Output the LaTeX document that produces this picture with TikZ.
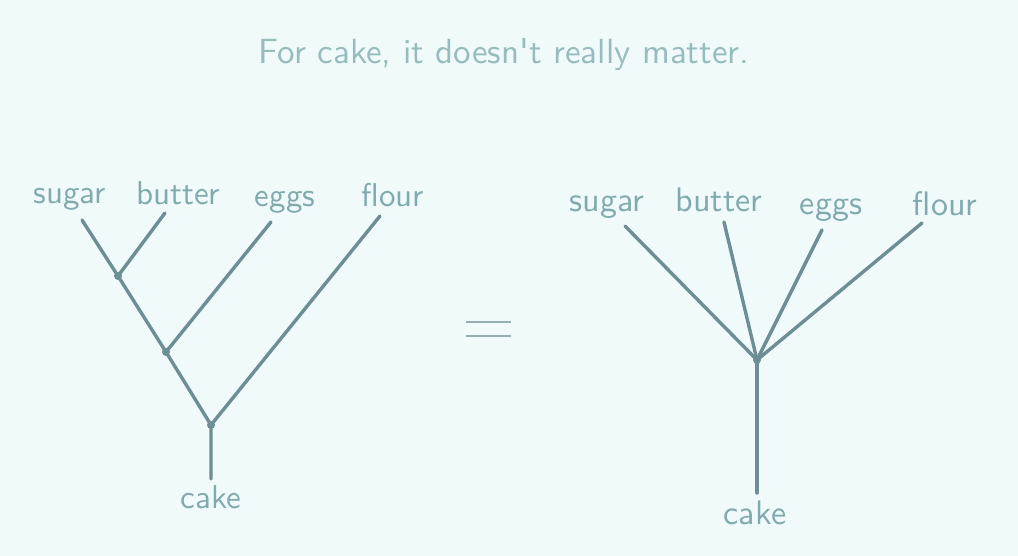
\documentclass[tikz,border=0pt]{standalone}
\begin{document}
\begin{tikzpicture}[x=1pt,y=-1pt,
  txt/.style={text=textc,font=\sffamily\fontsize{10}{12}\selectfont,inner sep=0pt,anchor=base},
  edge/.style={draw=linec,line width=3.4pt,line cap=round},
  dot/.style={circle,fill=linec,inner sep=0pt,minimum size=8pt}]
\definecolor{bgc}{RGB}{240,250,250}
\definecolor{textc}{RGB}{128,170,174}
\definecolor{titlec}{RGB}{150,188,190}
\definecolor{linec}{RGB}{108,142,148}
\fill[bgc] (0,0) rectangle (1018,556);
\useasboundingbox (0,0) rectangle (1018,556);
\node[txt,text=titlec] (title) at (504,64) {\scalebox{3.5}{For cake, it doesn\textquotesingle t really matter.}};
% left tree
\node[txt] (ls) at (70,204) {\scalebox{3.3}{sugar}};
\node[txt] (lb) at (178,205) {\scalebox{3.3}{butter}};
\node[txt] (le) at (285,207) {\scalebox{3.3}{eggs}};
\node[txt] (lf) at (393,207) {\scalebox{3.3}{flour}};
\node[txt] (lc) at (211,508) {\scalebox{3.3}{cake}};
\coordinate (ls1) at (82,220);
\coordinate (lb1) at (165,213);
\coordinate (le1) at (271,222);
\coordinate (lf1) at (380,216);
\coordinate (lc1) at (211,479);
\node[dot] (j1) at (118,276) {};
\node[dot] (j2) at (166,352) {};
\node[dot] (j3) at (211,425) {};
\draw[edge] (ls1) -- (j1.center) -- (j2.center) -- (j3.center) -- (lc1);
\draw[edge] (lb1) -- (j1.center);
\draw[edge] (le1) -- (j2.center);
\draw[edge] (lf1) -- (j3.center);
% equals
\coordinate (e1) at (466,322); \coordinate (e2) at (511,322);
\coordinate (e3) at (466,336); \coordinate (e4) at (511,336);
\draw[draw=linec!70,line width=2pt] (e1) -- (e2) (e3) -- (e4);
% right tree
\node[txt] (rs) at (607,212) {\scalebox{3.4}{sugar}};
\node[txt] (rb) at (719,212) {\scalebox{3.4}{butter}};
\node[txt] (re) at (831,215) {\scalebox{3.4}{eggs}};
\node[txt] (rf) at (945,216) {\scalebox{3.4}{flour}};
\node[txt] (rc) at (755,524) {\scalebox{3.4}{cake}};
\coordinate (rs1) at (625,226);
\coordinate (rb1) at (724,222);
\coordinate (re1) at (822,230);
\coordinate (rf1) at (922,223);
\coordinate (rc1) at (757,493);
\node[dot] (k) at (757,360) {};
\draw[edge] (rs1) -- (k.center);
\draw[edge] (rb1) -- (k.center);
\draw[edge] (re1) -- (k.center);
\draw[edge] (rf1) -- (k.center);
\draw[edge] (k.center) -- (rc1);
\end{tikzpicture}
\end{document}
